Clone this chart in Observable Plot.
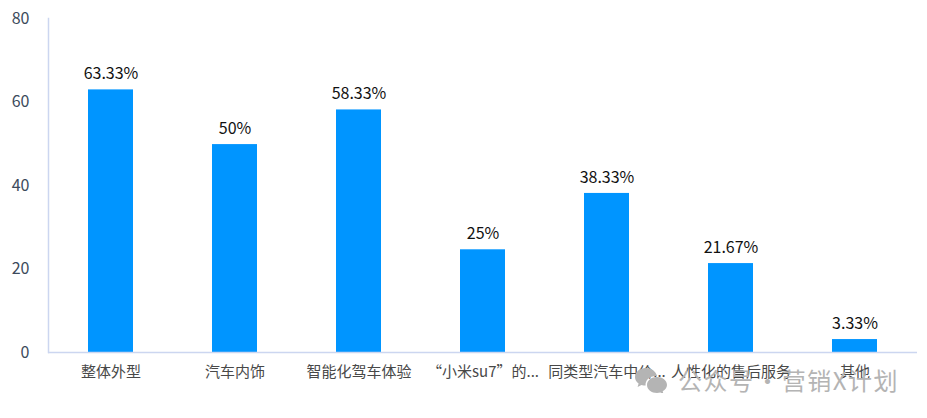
<!DOCTYPE html>
<html><head><meta charset="utf-8">
<script src="https://cdn.jsdelivr.net/npm/d3@7"></script>
<script src="https://cdn.jsdelivr.net/npm/@observablehq/plot@0.6"></script>
<style>
html,body{margin:0;padding:0;background:#fff;overflow:hidden}
#wrap{position:relative;width:927px;height:418px}
#mark{position:absolute;left:634px;top:364px;display:flex;align-items:center;color:#b4b4b4;font:24px "Noto Sans CJK SC",sans-serif;letter-spacing:1.5px;word-spacing:-6px;white-space:nowrap;line-height:32px}
#mark svg{margin-right:10px}
</style></head><body>
<div id="wrap"></div>
<script>
const categories = ["整体外型","汽车内饰","智能化驾车体验","“小米su7”的...","同类型汽车中价...","人性化的售后服务","其他"];
const values = [62.9,49.8,58.1,24.6,38.1,21.3,3.1];
const valueLabels = ["63.33%","50%","58.33%","25%","38.33%","21.67%","3.33%"];
const yTicks = [0,20,40,60,80];
const rows = categories.map((c,i)=>({c,v:values[i],l:valueLabels[i]}));
const font = '"Noto Sans CJK SC","Noto Sans",sans-serif';
const chart = Plot.plot({
  width:927,height:418,marginTop:18,marginBottom:66,marginLeft:48,marginRight:10,
  style:{fontFamily:font,background:"#fff"},
  x:{domain:categories,paddingInner:0.637,paddingOuter:0.3185,label:null},
  y:{domain:[0,80],label:null},
  marks:[
    Plot.barY(rows,{x:"c",y:"v",fill:"#0095ff"}),
    Plot.frame({anchor:"left",stroke:"#ccd6f0",strokeWidth:1.5}),
    Plot.ruleY([0],{stroke:"#ccd6f0",strokeWidth:1.5}),
    Plot.axisY({ticks:yTicks,tickSize:0,tickPadding:19,fontSize:16,fill:"#3c4a5c",label:null}),
    Plot.axisX({tickSize:0,tickPadding:14,fontSize:15,fill:"#484848",label:null}),
    Plot.text(rows,{x:"c",y:"v",text:"l",dy:-16,fontSize:16,fill:"#111"})
  ]
});
document.getElementById("wrap").append(chart);
const m=document.createElement("div");m.id="mark";
m.innerHTML='<svg width="34" height="26" viewBox="0 0 34 26"><path fill="#b4b4b4" d="M12 1C5.5 1 1 5 1 10c0 2.8 1.4 5 3.6 6.6L3.6 20l3.9-2c1.3.4 2.7.6 4.1.6C11 13 16 8.5 23 9 21.800 4.500 17.500 1 12 1z"/><path fill="#b4b4b4" d="M23 10c-5.500 0-10 3.500-10 8s4.500 8 10 8c1.200 0 2.300-.2 3.400-.5l3.100 1.500-.8-2.800c2.600-1.500 4.300-3.700 4.300-6.200 0-4.500-4.500-8-10-8z"/></svg><span>公众号 · 营销X计划</span>';
document.getElementById("wrap").append(m);
</script>
</body></html>
